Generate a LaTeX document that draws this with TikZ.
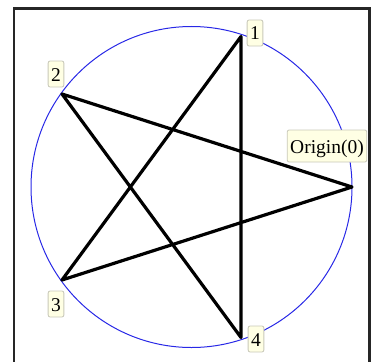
\documentclass[tikz,border=0pt]{standalone}
\usepackage{fontspec}
\setmainfont{Liberation Serif}
\definecolor{lblfill}{RGB}{255,255,228}
\definecolor{lbldraw}{RGB}{200,200,185}
\definecolor{circblue}{RGB}{40,40,230}
\begin{document}
\begin{tikzpicture}[x=1pt,y=-1pt,
  lbl/.style={draw=lbldraw,fill=lblfill,rounded corners=2pt,line width=0.8pt,
    font=\fontsize{19.5}{22}\selectfont,inner xsep=3pt,inner ysep=6pt,
    text height=14pt,text depth=0pt},
  edge/.style={line width=3.2pt,line cap=round,line join=round}]
\useasboundingbox (0,0) rectangle (371,361);
\draw[line width=2.5pt,black!85] (14,372) -- (14,8.5) -- (369.5,8.5) -- (369.5,372);
\node[draw=circblue,line width=1pt,circle,minimum size=321pt,inner sep=0pt] (c) at (191.5,187) {};
\coordinate (p0) at (352,187);
\coordinate (p1) at (241,36.5);
\coordinate (p2) at (62,94);
\coordinate (p3) at (62,280);
\coordinate (p4) at (241,337.5);
\draw[edge] (p0) -- (p2) -- (p4) -- (p1) -- (p3) -- cycle;
\node[lbl,inner ysep=9pt] (l0) at (327,146) {Origin(0)};
\node[lbl] (l1) at (255,33) {1};
\node[lbl] (l2) at (56,74) {2};
\node[lbl] (l3) at (56,304) {3};
\node[lbl] (l4) at (256,339) {4};
\end{tikzpicture}
\end{document}
